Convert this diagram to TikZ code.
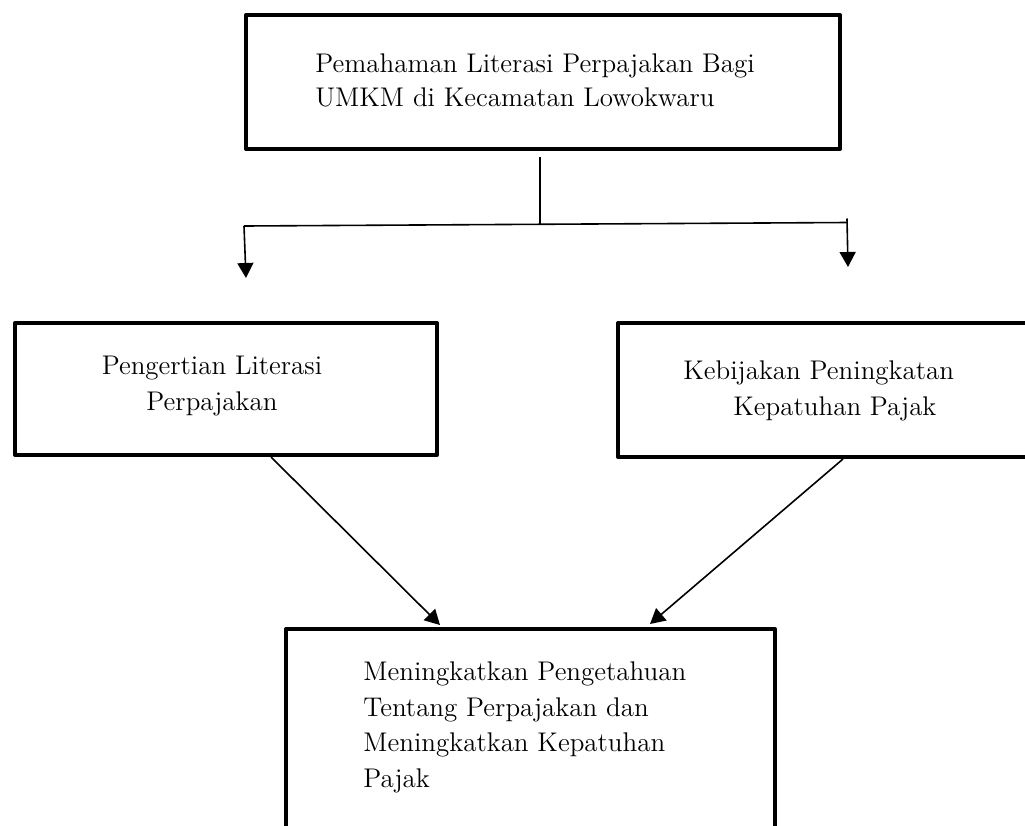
\documentclass[tikz,border=0pt]{standalone}
\usepackage{tikz}
\usetikzlibrary{arrows.meta}

\tikzset{
  kotak/.style={rectangle, draw=black, line width=2pt, line join=round, inner sep=0pt, anchor=north west},
  teks/.style={inner sep=0pt, anchor=base west, align=left, font=\fontsize{13.5}{17.75}\selectfont},
  panah/.style={-{Triangle[width=8pt,length=7.5pt]}, line width=0.8pt, draw=black},
  garis/.style={line width=0.8pt, draw=black}
}

\begin{document}
\begin{tikzpicture}[x=0.5pt, y=-0.5pt]
\useasboundingbox (0,0) rectangle (1025,826);
\clip (0,0) rectangle (1025,826);
% kotak
\node [kotak, minimum width=297pt, minimum height=67pt] (atas) at (244,13) {};
\node [kotak, minimum width=211pt, minimum height=66pt] (kiri) at (13,321) {};
\node [kotak, minimum width=222pt, minimum height=67pt] (kanan) at (616,321) {};
\node [kotak, minimum width=244.5pt, minimum height=116.5pt] (bawah) at (284,627) {};
% teks (anchor pada baris terakhir)
\node [teks, font=\fontsize{13.5}{17}\selectfont] (tatas) at (315,106) {Pemahaman Literasi Perpajakan Bagi\\UMKM di Kecamatan Lowokwaru};
\node [teks, anchor=base, align=center] (tkiri) at (212,410) {Pengertian Literasi\\Perpajakan};
\node [teks] (tkanan) at (683,415) {Kebijakan Peningkatan\\\hspace*{25pt}Kepatuhan Pajak};
\node [teks] (tbawah) at (363,787) {Meningkatkan Pengetahuan\\Tentang Perpajakan dan\\Meningkatkan Kepatuhan\\Pajak};
% cabang
\coordinate (cabang) at (540,225);
\coordinate (ujungkiri) at (244,226);
\coordinate (ujungkanan) at (847,222.5);
\coordinate (panahkiri) at (246,278);
\coordinate (panahkanan) at (848,267);
\draw [garis] ([yshift=-3pt]atas.south -| cabang) -- (cabang);
\draw [garis] (ujungkiri) -- (ujungkanan);
\draw [panah] (ujungkiri) -- (panahkiri);
\draw [panah] ([yshift=2pt]ujungkanan) -- (panahkanan);
\draw [panah] ([xshift=129pt]kiri.south west) -- ([xshift=78pt,yshift=1pt]bawah.north west);
\draw [panah] ([xshift=113.5pt]kanan.south west) -- ([xshift=183pt,yshift=1.5pt]bawah.north west);
\end{tikzpicture}
\end{document}
